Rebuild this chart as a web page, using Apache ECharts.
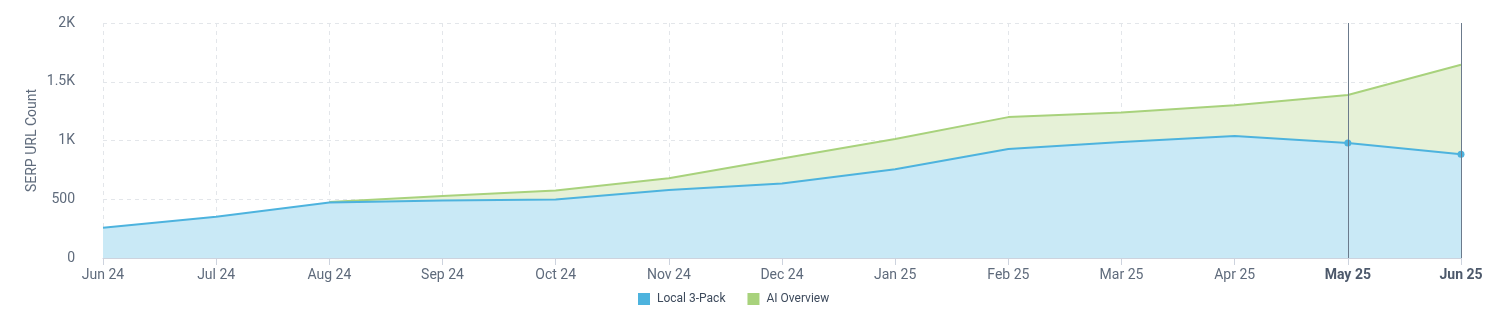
<!DOCTYPE html>
<html><head><meta charset="utf-8">
<script src="https://cdn.jsdelivr.net/npm/echarts@6/dist/echarts.min.js"></script>
<style>html,body{margin:0;padding:0;background:#fff}#c{width:1495px;height:330px}</style>
</head><body><div id="c"></div>
<script>
const categories = ['Jun 24','Jul 24','Aug 24','Sep 24','Oct 24','Nov 24','Dec 24','Jan 25','Feb 25','Mar 25','Apr 25','May 25','Jun 25'];
const local3Pack = [257, 352, 472, 489, 498, 578, 635, 755, 927, 987, 1039, 979, 884];
const aiOverview = [null, null, 5, 38, 77, 100, 212, 258, 272, 252, 260, 409, 761];
const highlighted = ['May 25', 'Jun 25'];
const yTicks = [0, 500, 1000, 1500, 2000];

const fmtY = v => v === 0 ? '0' : (v >= 1000 ? (v/1000) + 'K' : String(v));
const blueData = local3Pack.map((v, i) => highlighted.includes(categories[i])
  ? { value: v, symbol: 'circle', symbolSize: 7 } : v);

const chart = echarts.init(document.getElementById('c'));
chart.setOption({
  animation: false,
  textStyle: { fontFamily: 'Roboto' },
  grid: { left: 103, right: 34, top: 23, bottom: 72 },
  legend: {
    top: 293, left: 638, padding: 0, itemWidth: 12, itemHeight: 12, itemGap: 22, icon: 'rect',
    textStyle: { color: '#3d4a5c', fontSize: 12, fontFamily: 'Roboto', padding: [0, 0, 0, 2] },
    data: ['Local 3-Pack', 'AI Overview']
  },
  xAxis: {
    type: 'category', data: categories, boundaryGap: false,
    axisLine: { lineStyle: { color: '#cdd3de' } },
    axisTick: { show: true, alignWithLabel: true, length: 7, lineStyle: { color: '#cdd3de' } },
    axisLabel: {
      margin: 10, fontSize: 14, color: '#5f6b7c', interval: 0,
      formatter: v => highlighted.includes(v) ? '{b|' + v + '}' : v,
      rich: { b: { fontWeight: 'bold', fontSize: 14, color: '#4d596b' } }
    },
    splitLine: { show: true, lineStyle: { color: '#e3e6ea', type: [4, 4] } }
  },
  yAxis: {
    type: 'value', min: yTicks[0], max: yTicks[yTicks.length-1], interval: 500,
    name: 'SERP URL Count', nameLocation: 'middle', nameGap: 64, nameRotate: 90,
    nameMoveOverlap: false,
    nameTextStyle: { color: '#5f6b7c', fontSize: 14 },
    axisLine: { show: false }, axisTick: { show: false },
    axisLabel: { fontSize: 14, color: '#5f6b7c', margin: 28, formatter: fmtY },
    splitLine: { lineStyle: { color: '#e3e6ea', type: [4, 4] } }
  },
  series: [
    {
      name: 'Local 3-Pack', type: 'line', stack: 'total', data: blueData,
      showSymbol: true, symbol: 'none', symbolSize: 7,
      itemStyle: { color: '#4db3de' },
      lineStyle: { color: '#4db3de', width: 2 },
      areaStyle: { color: '#c9e9f6', opacity: 1 },
      z: 3,
      markLine: {
        silent: true, symbol: 'none', label: { show: false },
        lineStyle: { color: '#6b7a8c', width: 1, type: 'solid' },
        data: highlighted.map(h => ({ xAxis: h }))
      }
    },
    {
      name: 'AI Overview', type: 'line', stack: 'total', data: aiOverview,
      symbol: 'none', connectNulls: false,
      itemStyle: { color: '#a8d27c' },
      lineStyle: { color: '#a8d27c', width: 2 },
      areaStyle: { color: '#e6f1d7', opacity: 1 },
      z: 2
    }
  ]
});
</script></body></html>
